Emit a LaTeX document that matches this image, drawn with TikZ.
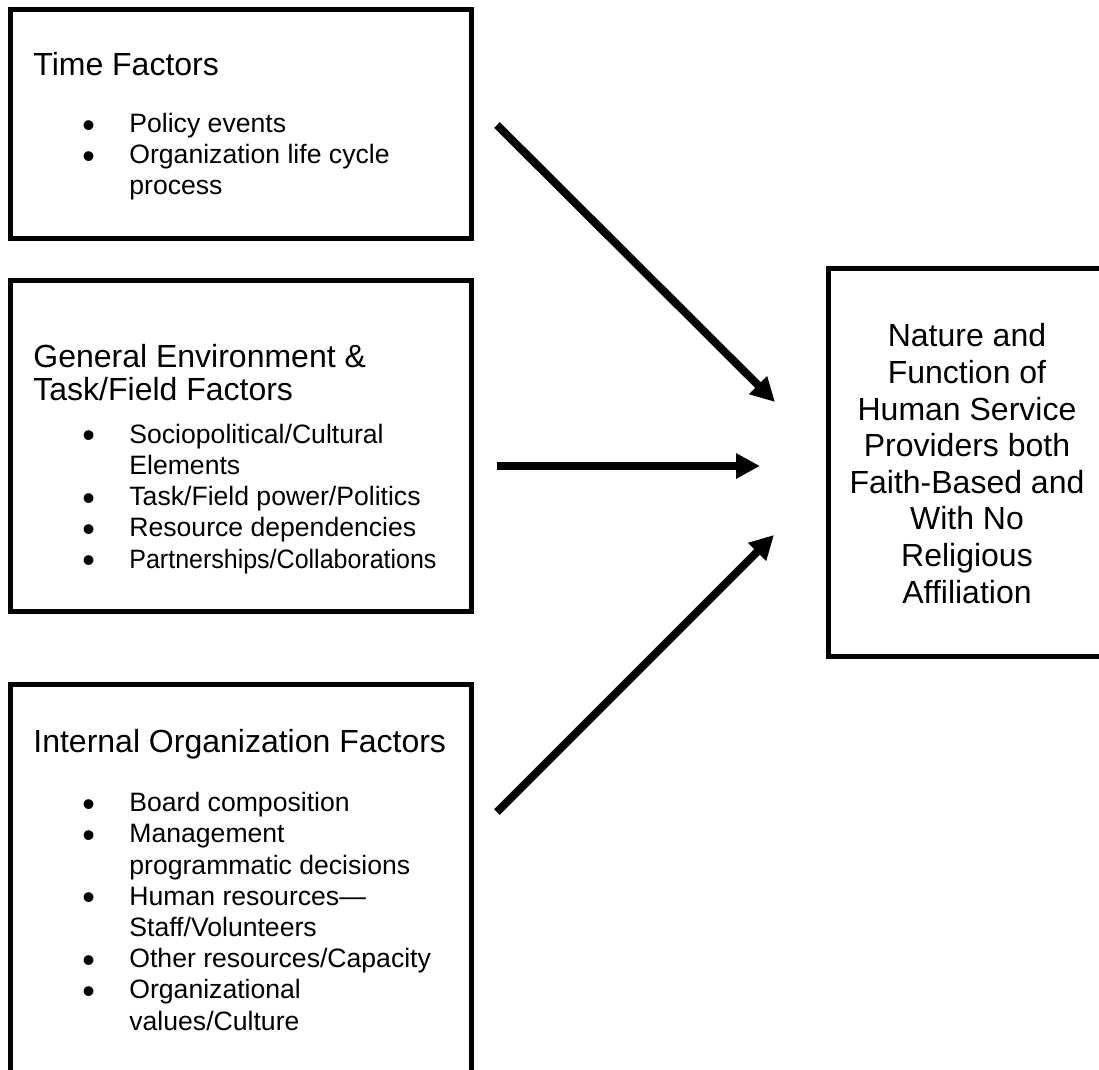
\documentclass[tikz,border=0pt]{standalone}
\usepackage{fontspec}
\setmainfont{Liberation Sans}
\usetikzlibrary{arrows.meta, positioning}

% bullet line and continuation line of a list
\newcommand{\bul}{\hspace*{24.5pt}\makebox[23.5pt][l]{\raisebox{-2.3pt}{\scalebox{1.35}{\textbullet}}}}
\newcommand{\cnt}{\hspace*{48pt}}

\begin{document}
\begin{tikzpicture}[x=0.5pt, y=-0.5pt,
    box/.style={draw, line width=2.5pt, anchor=north west, inner sep=0pt, outer sep=0pt},
    head/.style={anchor=base west, inner sep=0pt, align=left, font=\fontsize{16}{16.5}\selectfont},
    list/.style={anchor=base west, inner sep=0pt, align=left, font=\fontsize{13.3}{15.6}\selectfont},
    flow/.style={line width=4pt, -{Triangle[length=12pt, width=12pt]}}]
    \useasboundingbox (0,0) rectangle (1099,1070);
    % Factor boxes
    \node[box, minimum width=230.25pt, minimum height=114.5pt] (time) at (10.5,10) {};
    \node[box, minimum width=230.25pt, minimum height=165.5pt] (env) at (10.5,280) {};
    \node[box, minimum width=230.25pt, minimum height=205.5pt] (internal) at (10.5,684) {};
    \node[box, minimum width=142pt, minimum height=194pt] (nature) at (828,268) {};
    % Box texts (anchored at the last baseline)
    \node[head] (timehead) at (33,76) {Time Factors};
    \node[list] (timelist) at (33,195) {\bul Policy events\\ \bul Organization life cycle\\ \cnt process};
    \node[head] (envhead) at (33,400) {General Environment \&\\Task/Field Factors};
    \node[list] (envlist) at (33,568) {\bul Sociopolitical/Cultural\\ \cnt Elements\\ \bul Task/Field power/Politics\\
        \bul Resource dependencies\\ \bul \scalebox{0.94}[1]{Partnerships/Collaborations}};
    \node[head] (inthead) at (33,752) {Internal Organization Factors};
    \node[list] (intlist) at (33,1030) {\bul Board composition\\ \bul Management\\ \cnt programmatic decisions\\
        \bul Human resources---\\ \cnt Staff/Volunteers\\ \bul Other resources/Capacity\\
        \bul Organizational\\ \cnt values/Culture};
    \node[anchor=base, inner sep=0pt, align=center, font=\fontsize{16}{18.3}\selectfont] (naturetxt) at (967,603)
        {Nature and\\Function of\\Human Service\\Providers both\\Faith-Based and\\With No\\Religious\\Affiliation};
    % Arrows
    \coordinate (a1) at (497,125);
    \coordinate (b1) at (775,402);
    \coordinate (a2) at (497,466);
    \coordinate (b2) at (760,466);
    \coordinate (a3) at (497,812);
    \coordinate (b3) at (774,535);
    \foreach \s/\e in {a1/b1,a2/b2,a3/b3}
        \draw[flow] (\s) -- (\e);
\end{tikzpicture}
\end{document}
